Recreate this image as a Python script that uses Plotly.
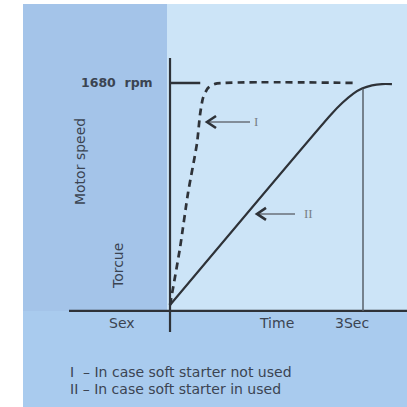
import plotly.graph_objects as go

# Motor run-up: speed (rpm) against time (s)
t_direct = [0.0, 0.155, 0.28, 0.42, 0.466, 0.513, 0.59, 0.70, 2.92]
rpm_direct = [0, 431, 848, 1226, 1438, 1567, 1642, 1673, 1680]

t_soft = [0.0, 2.50, 2.68, 2.85, 2.985, 3.14, 3.296, 3.45]
rpm_soft = [0, 1440, 1530, 1600, 1638, 1662, 1672, 1672]

RATED_RPM = 1680
RAMP_TIME = 3.0
x_labels = {"Sex": -0.746, "Time": 1.648, "3Sec": 2.83}
legend_lines = ["I\u00a0\u00a0– In case soft starter not used",
                "II\u00a0– In case soft starter in used"]

X_RANGE = [-2.643, 3.684]
Y_RANGE = [-772, 2308]
S_PER_PX = (X_RANGE[1] - X_RANGE[0]) / 407
RPM_PER_PX = (Y_RANGE[1] - Y_RANGE[0]) / 407

INK = "#2e3238"
TEXT = "#3b4452"
FONT = "DejaVu Sans"

fig = go.Figure()

# background panels
shapes = [
    dict(type="rect", xref="paper", yref="paper", x0=23/407, x1=1, y0=0, y1=1-4/407,
         fillcolor="#a9cbee", line_width=0, layer="below"),
    dict(type="rect", xref="paper", yref="paper", x0=23/407, x1=167/407, y0=1-311/407, y1=1-4/407,
         fillcolor="#a4c4e9", line_width=0, layer="below"),
    dict(type="rect", xref="paper", yref="paper", x0=167/407, x1=1, y0=1-311/407, y1=1-4/407,
         fillcolor="#cce4f7", line_width=0, layer="below"),
]

# axes
shapes += [
    dict(type="line", x0=0, x1=0, y0=-204, y1=1869, line=dict(color=INK, width=2.2)),
    dict(type="line", x0=-1.57, x1=X_RANGE[1], y0=-45, y1=-45, line=dict(color=INK, width=2.2)),
    dict(type="line", x0=0, x1=0.47, y0=RATED_RPM, y1=RATED_RPM, line=dict(color=INK, width=2.5)),
    dict(type="line", x0=RAMP_TIME, x1=RAMP_TIME, y0=-45, y1=1636, line=dict(color="#59606a", width=1.5)),
]

fig.add_trace(go.Scatter(x=t_direct, y=rpm_direct, mode="lines",
                         line=dict(color=INK, width=2.7, dash="7px,5px", shape="spline", smoothing=0.6),
                         hoverinfo="skip", showlegend=False))
fig.add_trace(go.Scatter(x=t_soft, y=rpm_soft, mode="lines",
                         line=dict(color=INK, width=2.2, shape="spline", smoothing=0.6),
                         hoverinfo="skip", showlegend=False))

# pointer arrows with open chevron heads
pointers = [
    (0.575, 1385, 1.244, 1.33, "I"),
    (1.352, 689, 1.943, 2.155, "II"),
]
annotations = []
for tip_t, tip_rpm, tail_t, lab_t, lab in pointers:
    shapes.append(dict(type="line", x0=tip_t, x1=tail_t, y0=tip_rpm, y1=tip_rpm,
                       line=dict(color="#6a717a", width=1.4)))
    dx = 9 * S_PER_PX
    dy = 6 * RPM_PER_PX
    shapes.append(dict(type="path",
                       path=f"M {tip_t+dx},{tip_rpm+dy} L {tip_t},{tip_rpm} L {tip_t+dx},{tip_rpm-dy}",
                       line=dict(color=INK, width=2.6)))
    annotations.append(dict(x=lab_t, y=tip_rpm, text=lab, showarrow=False,
                            font=dict(family="Liberation Serif", size=13, color="#7a8088")))

annotations += [
    dict(x=-0.233, y=RATED_RPM, text="<b>1680\u00a0 rpm</b>", showarrow=False, xanchor="right",
         font=dict(family=FONT, size=12.5, color=TEXT)),
    dict(x=-1.399, y=1082, text="Motor speed", textangle=-90, showarrow=False,
         font=dict(family=FONT, size=14, color=TEXT)),
    dict(x=-0.808, y=295, text="Torcue", textangle=-90, showarrow=False,
         font=dict(family=FONT, size=14, color=TEXT)),
]
for lab, xt in x_labels.items():
    annotations.append(dict(x=xt, y=-136, text=lab, showarrow=False,
                            font=dict(family=FONT, size=14, color=TEXT)))
for i, line in enumerate(legend_lines):
    annotations.append(dict(xref="paper", yref="paper", x=68/407, y=1-(372+17*i)/407,
                            text=line, showarrow=False, xanchor="left", yanchor="middle",
                            font=dict(family=FONT, size=14, color=TEXT)))

fig.update_layout(
    width=407, height=407, autosize=False,
    margin=dict(l=0, r=0, t=0, b=0),
    paper_bgcolor="white", plot_bgcolor="rgba(0,0,0,0)",
    xaxis=dict(range=X_RANGE, visible=False, fixedrange=True),
    yaxis=dict(range=Y_RANGE, visible=False, fixedrange=True),
    shapes=shapes, annotations=annotations,
)

fig.write_html("out.html", config={"displayModeBar": False})
